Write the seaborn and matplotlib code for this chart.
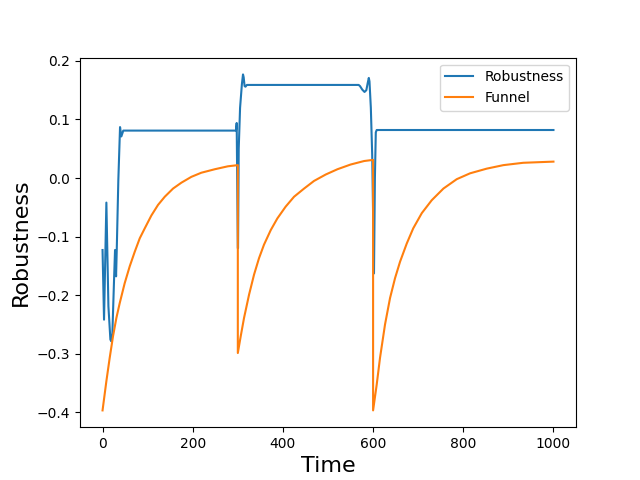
import matplotlib
matplotlib.use("Agg")
import matplotlib.pyplot as plt
import seaborn as sns

# Robustness signal
rob_time = [0, 3.3, 8.5, 13, 17.4, 19.5, 21.8, 25.5, 27.7, 30, 31.5, 35, 38.8, 41.7, 46,
            296, 297.5, 300, 300.5, 302, 305, 309, 311.5, 313, 315, 317, 320,
            568, 571, 576, 581, 585, 588, 590.5, 592, 595, 598, 602, 604, 606, 608, 1000]
rob_value = [-0.123, -0.242, -0.042, -0.219, -0.276, -0.279, -0.265, -0.174, -0.123, -0.168, -0.123, -0.004, 0.087, 0.071, 0.081,
             0.081, 0.094, -0.12, -0.12, 0.05, 0.12, 0.16, 0.177, 0.172, 0.157, 0.156, 0.159,
             0.159, 0.157, 0.151, 0.147, 0.150, 0.162, 0.171, 0.165, 0.12, 0.04, -0.163, 0.0, 0.078, 0.082, 0.082]

# Funnel bound
fun_time = [0, 8.5, 15.9, 23.3, 30.7, 38, 49, 60.2, 71.4, 82.5, 93.6, 108.3, 123, 138, 156.4,
            174.8, 197, 219, 249, 278, 300,
            300, 306.5, 313.8, 325, 336, 347, 358, 373, 387.7, 406, 424.7, 447, 469, 495,
            521, 550, 580, 600,
            600, 608, 615.4, 626.5, 637.6, 648.7, 659.8, 674.6, 689, 708, 730, 756, 785.5,
            815, 852, 889, 933, 1000]
fun_value = [-0.397, -0.347, -0.307, -0.270, -0.239, -0.214, -0.180, -0.151, -0.126, -0.103, -0.086, -0.064, -0.046, -0.032, -0.018,
             -0.008, 0.002, 0.009, 0.015, 0.020, 0.022,
             -0.299, -0.270, -0.239, -0.199, -0.165, -0.137, -0.114, -0.089, -0.069, -0.049, -0.032, -0.018, -0.005, 0.006,
             0.015, 0.023, 0.029, 0.031,
             -0.397, -0.353, -0.307, -0.250, -0.205, -0.171, -0.143, -0.112, -0.086, -0.060, -0.038, -0.018, -0.002,
             0.008, 0.016, 0.022, 0.026, 0.028]

fig, ax = plt.subplots(figsize=(6.4, 4.8), dpi=100)

sns.lineplot(x=rob_time, y=rob_value, ax=ax, label="Robustness",
             sort=False, estimator=None, color="C0")
sns.lineplot(x=fun_time, y=fun_value, ax=ax, label="Funnel",
             sort=False, estimator=None, color="C1")

ax.set_xlabel("Time", fontsize=16)
ax.set_ylabel("Robustness", fontsize=16)
ax.legend(loc="upper right")

plt.savefig("out.png")
